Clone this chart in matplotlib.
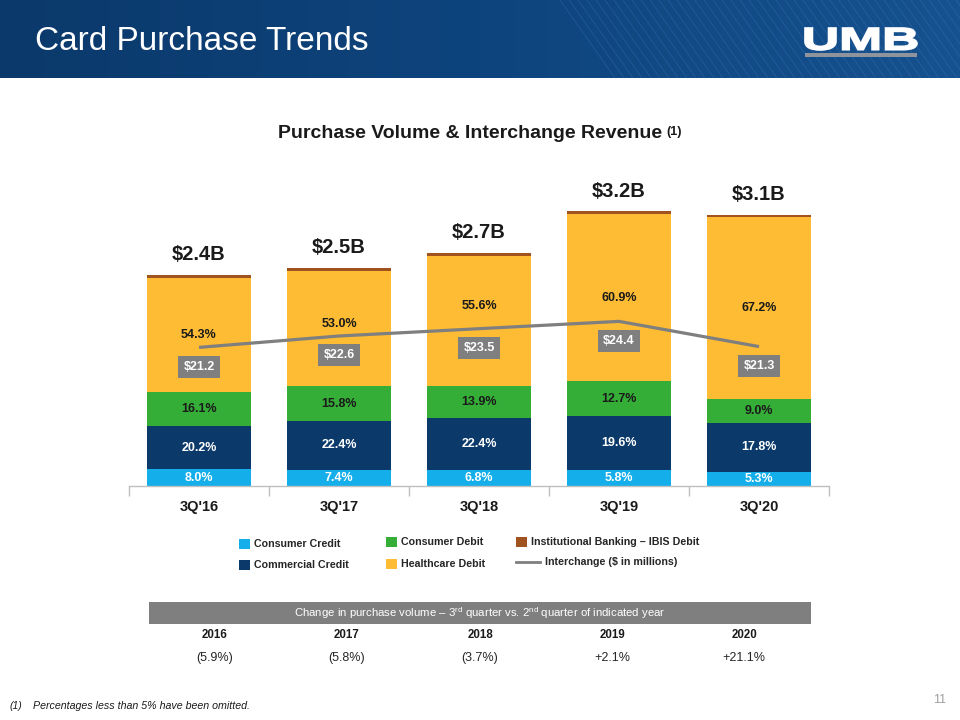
import numpy as np
import matplotlib
matplotlib.use('Agg')
import matplotlib.pyplot as plt
from matplotlib.patches import Rectangle, PathPatch
from matplotlib.textpath import TextPath
from matplotlib.font_manager import FontProperties
from matplotlib.transforms import Affine2D

# data
quarters = ["3Q'16", "3Q'17", "3Q'18", "3Q'19", "3Q'20"]
total_volume = [2.43, 2.51, 2.68, 3.16, 3.12]          # $B
consumer_credit = [8.0, 7.4, 6.8, 5.8, 5.3]             # % of volume
commercial_credit = [20.2, 22.4, 22.4, 19.6, 17.8]
consumer_debit = [16.1, 15.8, 13.9, 12.7, 9.0]
healthcare_debit = [54.3, 53.0, 55.6, 60.9, 67.2]
ibis_debit = [1.4, 1.4, 1.3, 1.0, 0.7]
interchange = [21.2, 22.6, 23.5, 24.4, 21.3]            # $ millions

years = ['2016', '2017', '2018', '2019', '2020']
qoq_change = ['(5.9%)', '(5.8%)', '(3.7%)', '+2.1%', '+21.1%']

C_CC = '#14AEEA'
C_COM = '#0B3A6A'
C_CD = '#35AE38'
C_HD = '#FDBC33'
C_IB = '#A0531F'
C_LINE = '#7F7F7F'
DARK = '#1A1A1A'

BASE = 'Liberation Sans'
plt.rcParams['font.family'] = [BASE, 'DejaVu Sans']
plt.rcParams['mathtext.fontset'] = 'custom'
plt.rcParams['mathtext.rm'] = BASE
plt.rcParams['mathtext.bf'] = BASE + ':bold'

fig = plt.figure(figsize=(9.6, 7.2), dpi=100)

# full-page overlay in pixel coords
bg = fig.add_axes([0, 0, 1, 1])
bg.axis('off')

# header band
grad = np.linspace(0, 1, 256).reshape(1, -1)
cmap = matplotlib.colors.LinearSegmentedColormap.from_list('hdr', ['#0B396B', '#0E447D', '#16528F'])
bg.imshow(grad, extent=[0, 960, 78, 0], cmap=cmap, aspect='auto', zorder=0)
for x0 in np.arange(560, 1000, 9):
    bg.plot([x0, x0 + 55], [0, 78], color='#3C7CC0', lw=0.6, alpha=0.35, zorder=1)
bg.set_xlim(0, 960)
bg.set_ylim(720, 0)
bg.text(35, 41, 'Card Purchase Trends', color='white', fontsize=24, va='center', ha='left')

# UMB logo, stretched wide
tp = TextPath((0, 0), 'UMB', size=1, prop=FontProperties(family=BASE, weight='bold'))
bb = tp.get_extents()
sx = 112 / bb.width
sy = 22 / bb.height
tr = Affine2D().translate(-bb.x0, -bb.y0).scale(sx, -sy).translate(805, 50)
bg.add_patch(PathPatch(tr.transform_path(tp), facecolor='white', edgecolor='white', lw=1.2, zorder=3))
bg.add_patch(Rectangle((805, 53), 112, 3.5, facecolor='#8E939C', edgecolor='none', zorder=3))

# chart title
t = bg.text(470, 134, 'Purchase Volume & Interchange Revenue', fontsize=14,
            fontweight='bold', color=DARK, ha='center', va='center')
bg.annotate('(1)', xy=(1, 1), xycoords=t, xytext=(3, 0), textcoords='offset points',
            fontsize=9, fontweight='bold', color=DARK, ha='left', va='top')

# main chart
ax = fig.add_axes([129 / 960, 1 - 486 / 720, 700 / 960, 313 / 720])
ax.set_facecolor('none')
x = np.arange(len(quarters))
tot = np.array(total_volume)
series = [(consumer_credit, C_CC, 'white'),
          (commercial_credit, C_COM, 'white'),
          (consumer_debit, C_CD, DARK),
          (healthcare_debit, C_HD, DARK),
          (ibis_debit, C_IB, None)]
bottom = np.zeros(len(x))
hd_nudge = [0, 5, 15, 0, 0]   # px, keeps labels clear of the line boxes
for k, (pct, col, tcol) in enumerate(series):
    h = tot * np.array(pct) / 100
    ax.bar(x, h, bottom=bottom, width=0.74, color=col, edgecolor='none', zorder=2)
    if tcol is not None:
        for i in range(len(x)):
            dy = hd_nudge[i] / 1.389 if k == 3 else 0
            ax.annotate(f'{pct[i]:.1f}%', xy=(x[i], bottom[i] + h[i] / 2),
                        xytext=(0, dy), textcoords='offset points',
                        ha='center', va='center', fontsize=9,
                        fontweight='bold', color=tcol, zorder=4)
    bottom = bottom + h

for i in range(len(x)):
    ax.annotate(f'${total_volume[i]:.1f}B', xy=(x[i], bottom[i]), xytext=(0, 14.5),
                textcoords='offset points', ha='center', va='center',
                fontsize=14.5, fontweight='bold', color=DARK)

ax.set_xlim(-0.5, 4.5)
ax.set_ylim(0, 3.6)
for s in ['top', 'right', 'left']:
    ax.spines[s].set_visible(False)
ax.spines['bottom'].set_color('#BFBFBF')
ax.spines['bottom'].set_linewidth(1)
ax.set_yticks([])
ax.set_xticks(x)
ax.set_xticklabels(quarters, fontsize=10.5, fontweight='bold', color=DARK)
ax.tick_params(axis='x', which='major', length=0, pad=10)
ax.set_xticks(np.arange(-0.5, 5, 1), minor=True)
ax.tick_params(axis='x', which='minor', length=7, color='#BFBFBF', width=1)

# interchange line on its own scale
ax2 = ax.twinx()
ax2.set_ylim(4.15, 42.65)
ax2.axis('off')
ax2.plot(x, interchange, color=C_LINE, lw=2.3, zorder=5, solid_capstyle='butt')
for i in range(len(x)):
    ax2.annotate(f'${interchange[i]:.1f}', xy=(x[i], interchange[i]), xytext=(0, -14),
                 textcoords='offset points', ha='center', va='center',
                 fontsize=9, fontweight='bold', color='white', zorder=6,
                 bbox=dict(boxstyle='square,pad=0.4', facecolor='#7F7F7F', edgecolor='none'))

# legend
leg_sq = [(239, 544, C_CC, 'Consumer Credit'),
          (239, 565, C_COM, 'Commercial Credit'),
          (386, 542, C_CD, 'Consumer Debit'),
          (386, 564, C_HD, 'Healthcare Debit'),
          (516, 542, C_IB, 'Institutional Banking \u2013 IBIS Debit')]
for lx, ly, col, lab in leg_sq:
    bg.add_patch(Rectangle((lx, ly - 5), 11, 10, facecolor=col, edgecolor='none'))
    bg.text(lx + 15, ly, lab, fontsize=7.7, fontweight='bold', color='#262626',
            ha='left', va='center')
bg.plot([516, 540], [562, 562], color=C_LINE, lw=2)
bg.text(545, 562, 'Interchange ($ in millions)', fontsize=7.7, fontweight='bold',
        color='#262626', ha='left', va='center')

# change table
bg.add_patch(Rectangle((149, 602), 662, 22, facecolor='#7F7F7F', edgecolor='none'))
bg.text(480, 613, 'Change in purchase volume \u2013 3$^{\\mathrm{rd}}$ quarter vs. 2$^{\\mathrm{nd}}$ quarter of indicated year',
        fontsize=8.2, color='white', ha='center', va='center')
col_x = [215, 347, 480, 612, 744]
for cx, yr, ch in zip(col_x, years, qoq_change):
    bg.text(cx, 635, yr, fontsize=8.3, fontweight='bold', color=DARK, ha='center', va='center')
    bg.text(cx, 658, ch, fontsize=9, color='#262626', ha='center', va='center')

# footnote and page number
bg.text(10, 706, '(1)', fontsize=7.5, style='italic', color=DARK, ha='left', va='center')
bg.text(33, 706, 'Percentages less than 5% have been omitted.', fontsize=7.7,
        style='italic', color=DARK, ha='left', va='center')
bg.text(946, 700, '11', fontsize=9, color='#A0A0A0', ha='right', va='center')

fig.savefig('out.png', dpi=100)
